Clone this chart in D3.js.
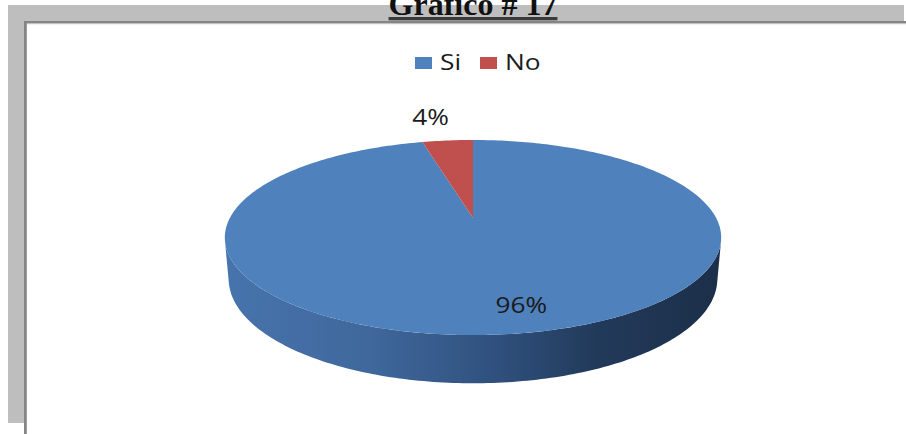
<!DOCTYPE html>
<html>
<head>
<meta charset="utf-8">
<script src="https://cdn.jsdelivr.net/npm/d3@7"></script>
<style>
  html, body { margin: 0; padding: 0; background: #fff; }
  svg { display: block; }
</style>
</head>
<body>
<svg id="chart" width="906" height="434"></svg>
<script>
// Chart data
const title = "Gráfico # 17";
const categories = ["Si", "No"];
const values = [96, 4];
const valueLabels = ["96%", "4%"];
const colors = ["#4F81BD", "#C0504D"];

const W = 906, H = 434;
const svg = d3.select("#chart");

// Frame: grey band with a darker inner edge
svg.append("rect").attr("x", 8).attr("y", 5).attr("width", 896).attr("height", 418).attr("fill", "#BEBEBE");
svg.append("rect").attr("x", 24).attr("y", 21).attr("width", W - 24).attr("height", H - 21).attr("fill", "#fff");
svg.append("rect").attr("x", 24).attr("y", 21).attr("width", W - 24).attr("height", 2.4).attr("fill", "#858585");
svg.append("rect").attr("x", 24).attr("y", 23.4).attr("width", W - 24).attr("height", 0.8).attr("fill", "#B8B8B8");
svg.append("rect").attr("x", 24).attr("y", 21).attr("width", 2.8).attr("height", H - 21).attr("fill", "#858585");

// Title (underlined, bold serif)
const titleText = svg.append("text")
  .attr("x", 473).attr("y", 15)
  .attr("text-anchor", "middle")
  .attr("font-family", "'Liberation Serif', 'Times New Roman', serif")
  .attr("font-weight", "bold")
  .attr("font-size", 32)
  .attr("fill", "#111")
  .text(title);
const tb = titleText.node().getBBox();
svg.append("rect").attr("x", tb.x).attr("y", 17).attr("width", tb.width).attr("height", 3.3).attr("fill", "#3a3a3a");

// 3D pie: perspective projection of a disc of unit radius
const cx = 473, cy = 218, focal = 1121;
const tilt = 22.65 * Math.PI / 180;
const dist = 4.61, depth = 0.183;
const cT = Math.cos(tilt), sT = Math.sin(tilt);

function project(theta, r, h) {
  const X = r * Math.sin(theta), Z = r * Math.cos(theta), Y = h;
  const xc = X, yc = Y * cT + Z * sT, zc = dist + Z * cT - Y * sT;
  return [cx + focal * xc / zc, cy - focal * yc / zc];
}

const pie = d3.pie().sort(null).value(d => d.value);
const arcs = pie(categories.map((c, i) => ({ name: c, value: values[i], label: valueLabels[i], color: colors[i] })));
const line = d3.line();

// Side gradient
const defs = svg.append("defs");
const grad = defs.append("linearGradient").attr("id", "sideGrad")
  .attr("gradientUnits", "userSpaceOnUse")
  .attr("x1", 225).attr("x2", 721).attr("y1", 0).attr("y2", 0);
[[0, "#4774AD"], [0.3, "#3F679B"], [0.55, "#2F507D"], [0.75, "#223A5A"], [1, "#1C2F49"]]
  .forEach(([o, c]) => grad.append("stop").attr("offset", o).attr("stop-color", c));

// Front wall between the two silhouette generators
const zs = -1 / (dist * cT);
const thR = Math.acos(zs), thL = 2 * Math.PI - thR;
const N = 160;
const wallTop = d3.range(N + 1).map(i => project(thR + (thL - thR) * i / N, 1, 0));
const wallBot = d3.range(N + 1).map(i => project(thL - (thL - thR) * i / N, 1, -depth));
svg.append("path")
  .attr("d", line(wallTop.concat(wallBot)) + "Z")
  .attr("fill", "url(#sideGrad)");

// Top faces of the slices
const g = svg.append("g");
arcs.forEach(a => {
  const n = Math.max(4, Math.ceil((a.endAngle - a.startAngle) / (2 * Math.PI) * 360));
  const pts = [project(0, 0, 0)].concat(
    d3.range(n + 1).map(i => project(a.startAngle + (a.endAngle - a.startAngle) * i / n, 1, 0)));
  g.append("path").attr("d", line(pts) + "Z").attr("fill", a.data.color);
});

// Value labels
const labelFont = "'Open Sans', 'DejaVu Sans', sans-serif";
function addText(x, y, txt, size) {
  return svg.append("text")
    .attr("transform", `translate(${x},${y}) scale(1.22,1)`)
    .attr("text-anchor", "middle")
    .attr("font-family", labelFont)
    .attr("font-size", size)
    .attr("fill", "#1a1a1a")
    .text(txt);
}
arcs.forEach((a, i) => {
  const mid = (a.startAngle + a.endAngle) / 2;
  const outside = a.data.value < 10;
  const p = outside ? project(mid, 1.35, 0) : project(mid, 0.83, 0);
  const dx = outside ? -10 : 18;
  addText(p[0] + dx, p[1] + (outside ? 6 : 3), a.data.label, 21.5);
});

// Legend
const legendX = d3.scaleOrdinal().domain(categories).range([415, 480]);
categories.forEach((c, i) => {
  const x = legendX(c);
  svg.append("rect").attr("x", x).attr("y", 57).attr("width", 17).attr("height", 12).attr("fill", colors[i]);
  svg.append("text")
    .attr("transform", `translate(${x + 25},70) scale(1.25,1)`)
    .attr("font-family", labelFont)
    .attr("font-size", 21)
    .attr("fill", "#1a1a1a")
    .text(c);
});
</script>
</body>
</html>
